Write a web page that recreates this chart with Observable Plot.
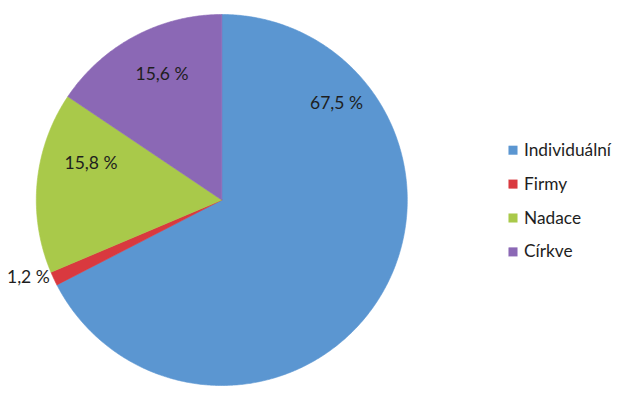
<!DOCTYPE html>
<html>
<head>
<meta charset="utf-8">
<script src="https://cdn.jsdelivr.net/npm/d3@7"></script>
<script src="https://cdn.jsdelivr.net/npm/@observablehq/plot@0.6"></script>
<style>
  html, body { margin: 0; padding: 0; background: #fff; }
  svg { display: block; }
</style>
</head>
<body>
<div id="chart"></div>
<script>
// ---- data ----
const categories = ["Individuální", "Firmy", "Nadace", "Církve"];
const shares = [67.5, 1.2, 15.8, 15.6];
const colors = ["#5b96d1", "#d9393f", "#a9c94a", "#8b68b5"];

// ---- layout (pixels) ----
const W = 625, H = 395;
const cx = 221.3, cy = 199.5, R = 185.5;
// label placement per slice: [angle in degrees clockwise from top, radius factor]
const labelPlacement = [[49.9, 0.808], [248.2, 1.123], [285.6, 0.732], [334.5, 0.749]];
const legendX = 512.5, legendTextX = 523.5, legendY0 = 149.7, legendStep = 33.9;

const px2x = p => (p - cx) / R;
const px2y = p => (cy - p) / R;

// pie geometry from data
const arcs = d3.pie().sort(null).value(d => d)(shares);
const pts = [];
arcs.forEach((a, i) => {
  pts.push({name: categories[i], x: 0, y: 0});
  const n = Math.max(2, Math.ceil((a.endAngle - a.startAngle) / (Math.PI / 360)));
  for (let k = 0; k <= n; k++) {
    const t = a.startAngle + (a.endAngle - a.startAngle) * k / n;
    pts.push({name: categories[i], x: Math.sin(t), y: Math.cos(t)});
  }
  pts.push({name: categories[i], x: 0, y: 0});
});

const fmt = v => v.toFixed(1).replace(".", ",") + " %";
const labels = shares.map((v, i) => {
  const ang = labelPlacement[i][0] * Math.PI / 180, f = labelPlacement[i][1];
  return {text: fmt(v), x: Math.sin(ang) * f, y: Math.cos(ang) * f};
});

const legend = categories.map((c, i) => ({
  name: c,
  x: px2x(legendX),
  tx: px2x(legendTextX),
  y: px2y(legendY0 + i * legendStep)
}));

const chart = Plot.plot({
  width: W,
  height: H,
  margin: 0,
  style: {fontFamily: "Lato, 'Open Sans', sans-serif", background: "#fff"},
  x: {domain: [-1, 1], range: [cx - R, cx + R], axis: null},
  y: {domain: [-1, 1], range: [cy + R, cy - R], axis: null},
  color: {domain: categories, range: colors},
  marks: [
    Plot.line(pts, {x: "x", y: "y", z: "name", fill: "name", stroke: "name", strokeWidth: 0.6, curve: "linear"}),
    Plot.text(labels, {x: "x", y: "y", text: "text", fontSize: 17.5, fill: "#1e1e1e"}),
    Plot.dot(legend, {x: "x", y: "y", fill: "name", symbol: "square", r: 5.1, stroke: null}),
    Plot.text(legend, {x: "tx", y: "y", text: "name", textAnchor: "start", fontSize: 17.3, fill: "#1e1e1e"})
  ]
});
document.getElementById("chart").appendChild(chart);
</script>
</body>
</html>
